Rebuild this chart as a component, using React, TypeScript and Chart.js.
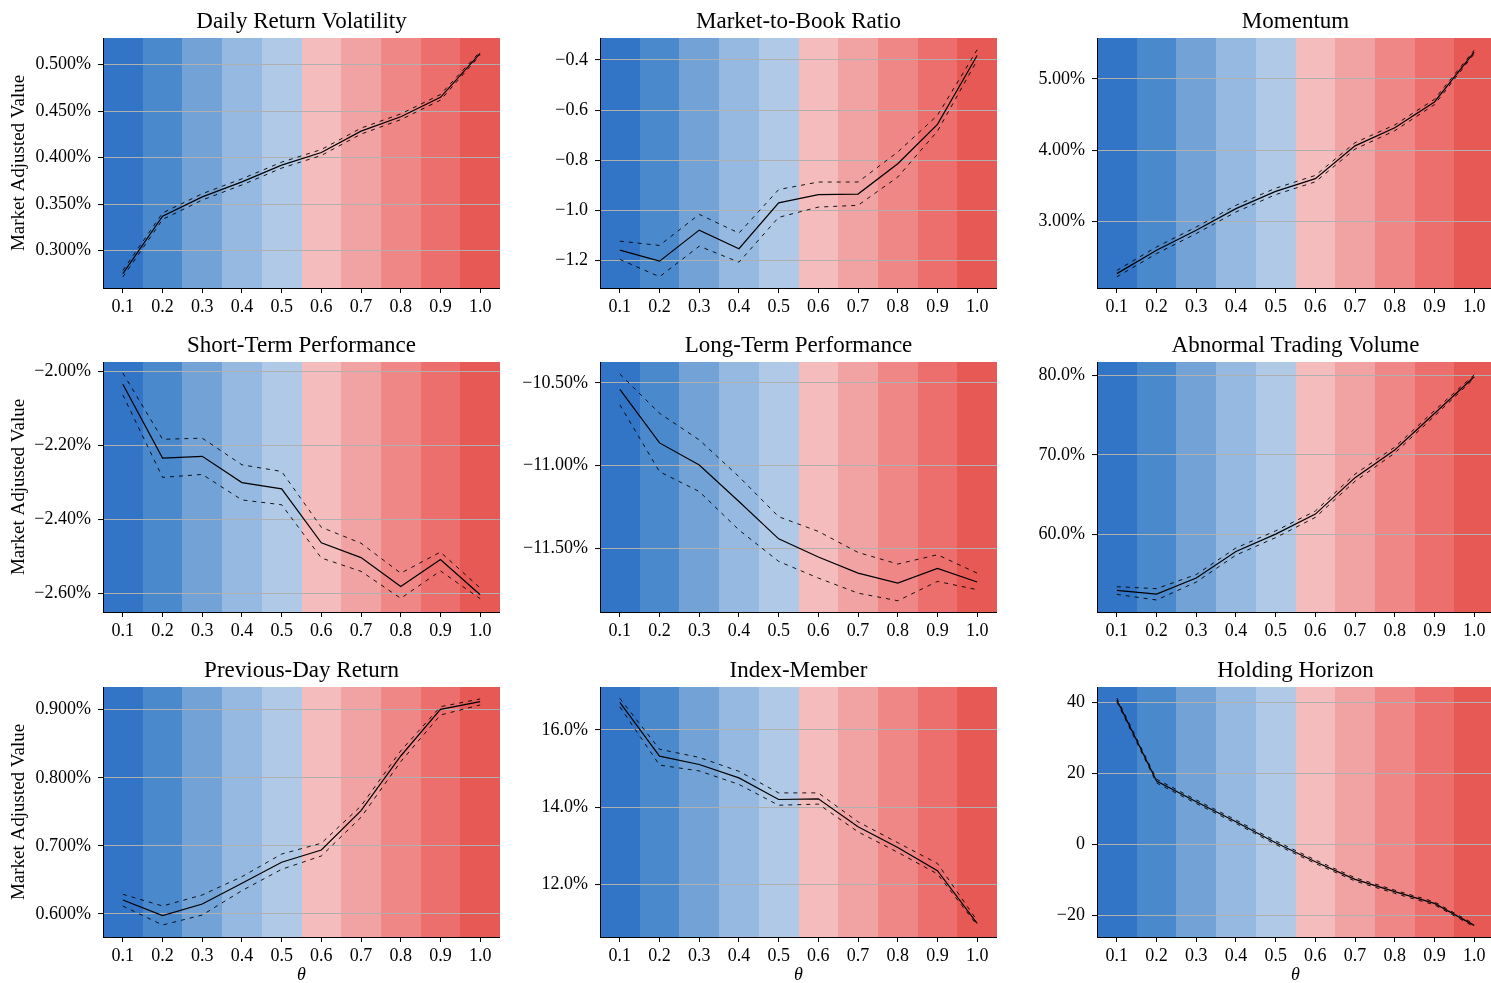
import React, { useEffect, useRef } from "react";
import { Chart, registerables } from "chart.js";

Chart.register(...registerables);

// ---------- data ----------
const THETA = ["0.1", "0.2", "0.3", "0.4", "0.5", "0.6", "0.7", "0.8", "0.9", "1.0"];

const BAND_COLORS = [
  "#3274c5", "#4b89cd", "#72a2d6", "#95b9e0", "#b0c9e7",
  "#f4bcbc", "#f1a2a2", "#ee8786", "#ec6f6d", "#e65955",
];

const TITLES = [
  "Daily Return Volatility", "Market-to-Book Ratio", "Momentum",
  "Short-Term Performance", "Long-Term Performance", "Abnormal Trading Volume",
  "Previous-Day Return", "Index-Member", "Holding Horizon",
];

// Daily Return Volatility (%)
const volMean = [0.2752, 0.337, 0.3578, 0.3739, 0.3919, 0.4055, 0.4285, 0.4439, 0.4648, 0.5121];
const volUpper = [0.2787, 0.3405, 0.3612, 0.3772, 0.3951, 0.4087, 0.4317, 0.447, 0.4678, 0.514];
const volLower = [0.2717, 0.3335, 0.3544, 0.3706, 0.3887, 0.4023, 0.4253, 0.4408, 0.4618, 0.5102];

// Market-to-Book Ratio
const mtbMean = [-1.159, -1.203, -1.079, -1.153, -0.97, -0.937, -0.935, -0.814, -0.657, -0.382];
const mtbUpper = [-1.123, -1.14, -1.016, -1.091, -0.917, -0.887, -0.887, -0.767, -0.621, -0.359];
const mtbLower = [-1.196, -1.265, -1.143, -1.207, -1.028, -0.987, -0.98, -0.867, -0.684, -0.401];

// Momentum (%)
const momMean = [2.265, 2.593, 2.874, 3.178, 3.42, 3.6, 4.06, 4.314, 4.677, 5.379];
const momUpper = [2.31, 2.64, 2.92, 3.225, 3.465, 3.645, 4.105, 4.355, 4.715, 5.405];
const momLower = [2.22, 2.546, 2.828, 3.131, 3.375, 3.555, 4.015, 4.273, 4.639, 5.353];

// Short-Term Performance (%)
const stpMean = [-2.035, -2.235, -2.23, -2.301, -2.318, -2.464, -2.504, -2.582, -2.509, -2.6045];
const stpUpper = [-2.005, -2.184, -2.181, -2.253, -2.271, -2.422, -2.465, -2.546, -2.489, -2.586];
const stpLower = [-2.064, -2.287, -2.279, -2.348, -2.361, -2.505, -2.541, -2.614, -2.54, -2.615];

// Long-Term Performance (%)
const ltpMean = [-10.538, -10.862, -10.996, -11.216, -11.442, -11.552, -11.649, -11.709, -11.62, -11.703];
const ltpUpper = [-10.446, -10.683, -10.844, -11.066, -11.308, -11.397, -11.524, -11.594, -11.538, -11.649];
const ltpLower = [-10.632, -11.036, -11.156, -11.388, -11.578, -11.679, -11.77, -11.816, -11.699, -11.749];

// Abnormal Trading Volume (%)
const atvMean = [52.96, 52.49, 54.51, 57.86, 60.04, 62.56, 67.15, 70.63, 75.24, 79.87];
const atvUpper = [53.42, 53.17, 54.95, 58.3, 60.45, 62.95, 67.6, 71.0, 75.6, 80.1];
const atvLower = [52.45, 51.74, 54.0, 57.4, 59.6, 62.15, 66.7, 70.25, 74.9, 79.65];

// Previous-Day Return (%)
const pdrMean = [0.6206, 0.5976, 0.6147, 0.645, 0.676, 0.694, 0.7518, 0.832, 0.9005, 0.9117];
const pdrUpper = [0.6289, 0.6117, 0.6279, 0.6548, 0.688, 0.7039, 0.7587, 0.8396, 0.9044, 0.9157];
const pdrLower = [0.6117, 0.5838, 0.5985, 0.6343, 0.6656, 0.6852, 0.742, 0.8237, 0.8922, 0.9069];

// Index-Member (%)
const idxMean = [16.717, 15.322, 15.106, 14.76, 14.199, 14.216, 13.49, 12.955, 12.354, 10.989];
const idxUpper = [16.82, 15.5, 15.29, 14.93, 14.37, 14.37, 13.62, 13.08, 12.54, 11.06];
const idxLower = [16.6, 15.09, 14.94, 14.59, 14.05, 14.08, 13.36, 12.83, 12.27, 10.94];

// Holding Horizon
const hhMean = [40.75, 17.93, 12.11, 6.48, 0.56, -4.79, -9.77, -13.24, -16.53, -22.72];
const hhUpper = [41.3, 18.45, 12.6, 6.95, 1.05, -4.3, -9.3, -12.8, -16.1, -22.35];
const hhLower = [40.2, 17.4, 11.6, 6.0, 0.07, -5.28, -10.24, -13.7, -16.96, -23.1];

// axis ranges and ticks
const Y_MIN = [0.2598, -1.31, 2.063, -2.651, -11.884, 50.23, 0.5662, 10.635, -26.0];
const Y_MAX = [0.5286, -0.312, 5.576, -1.975, -10.373, 81.72, 0.9333, 17.115, 44.41];
const Y_TICKS = [
  [0.3, 0.35, 0.4, 0.45, 0.5],
  [-1.2, -1.0, -0.8, -0.6, -0.4],
  [3, 4, 5],
  [-2.6, -2.4, -2.2, -2.0],
  [-11.5, -11.0, -10.5],
  [60, 70, 80],
  [0.6, 0.7, 0.8, 0.9],
  [12, 14, 16],
  [-20, 0, 20, 40],
];
const TICK_DECIMALS = [3, 1, 2, 2, 2, 1, 3, 1, 0];
const TICK_SUFFIX = ["%", "", "%", "%", "%", "%", "%", "%", ""];

const MEANS = [volMean, mtbMean, momMean, stpMean, ltpMean, atvMean, pdrMean, idxMean, hhMean];
const UPPERS = [volUpper, mtbUpper, momUpper, stpUpper, ltpUpper, atvUpper, pdrUpper, idxUpper, hhUpper];
const LOWERS = [volLower, mtbLower, momLower, stpLower, ltpLower, atvLower, pdrLower, idxLower, hhLower];

const Y_LABEL = "Market Adjusted Value";
const X_LABEL = "\u03b8";

// ---------- layout ----------
const FONT = "'Liberation Serif', 'Times New Roman', serif";
const PLOT_LEFT = [103, 600, 1097];
const PLOT_TOP = [38, 362, 687];
const PLOT_W = 397;
const PLOT_H = 250;
const YAXIS_W = 100;
const TITLE_H = 38;

const bandsPlugin = {
  id: "bands",
  beforeDraw(chart: any) {
    const { ctx, chartArea } = chart;
    const x = chart.scales.x;
    const n = THETA.length;
    ctx.save();
    ctx.beginPath();
    ctx.rect(chartArea.left, chartArea.top, chartArea.right - chartArea.left, chartArea.bottom - chartArea.top);
    ctx.clip();
    for (let i = 0; i < n; i++) {
      const c = x.getPixelForValue(i);
      const step = i < n - 1 ? x.getPixelForValue(i + 1) - c : c - x.getPixelForValue(i - 1);
      const l = i === 0 ? chartArea.left : Math.round(c - step / 2);
      const r = i === n - 1 ? chartArea.right : Math.round(c + step / 2);
      ctx.fillStyle = BAND_COLORS[i];
      ctx.fillRect(l, chartArea.top, r - l, chartArea.bottom - chartArea.top);
    }
    ctx.restore();
  },
};

function fmt(v: number, idx: number) {
  return (v.toFixed(TICK_DECIMALS[idx]) + TICK_SUFFIX[idx]).replace("-", "\u2212");
}

function Panel({ idx }: { idx: number }) {
  const ref = useRef<HTMLCanvasElement | null>(null);
  const row = Math.floor(idx / 3);
  const col = idx % 3;
  const xAxisH = row === 2 ? 50 : 45;
  const left = PLOT_LEFT[col] - YAXIS_W;
  const top = PLOT_TOP[row] - TITLE_H;
  const width = YAXIS_W + PLOT_W;
  const height = TITLE_H + PLOT_H + xAxisH;

  useEffect(() => {
    if (!ref.current) return;
    const dashed = {
      borderColor: "#000",
      borderWidth: 0.9,
      borderDash: [4, 5],
      pointRadius: 0,
      tension: 0,
      fill: false,
    };
    const chart = new Chart(ref.current, {
      type: "line",
      data: {
        labels: THETA,
        datasets: [
          { ...dashed, data: UPPERS[idx] },
          { ...dashed, data: LOWERS[idx] },
          {
            data: MEANS[idx],
            borderColor: "#000",
            borderWidth: 1.2,
            pointRadius: 0,
            tension: 0,
            fill: false,
          },
        ],
      },
      options: {
        responsive: false,
        animation: false,
        devicePixelRatio: 1,
        layout: { padding: 0 },
        plugins: {
          legend: { display: false },
          tooltip: { enabled: false },
          title: {
            display: true,
            text: TITLES[idx],
            fullSize: false,
            color: "#000",
            font: { family: FONT, size: 23, weight: "normal", lineHeight: 1.2 },
            padding: { top: 8, bottom: 2.4 },
          },
        },
        scales: {
          x: {
            type: "category",
            offset: true,
            grid: {
              display: true,
              drawOnChartArea: false,
              drawTicks: true,
              tickLength: 5,
              tickColor: "#000",
              tickWidth: 1,
            },
            border: { display: true, color: "#000", width: 1 },
            ticks: {
              color: "#000",
              font: { family: FONT, size: 18 },
              padding: 3,
              maxRotation: 0,
              autoSkip: false,
            },
            title: {
              display: row === 2,
              text: X_LABEL,
              color: "#000",
              font: { family: FONT, size: 18, style: "italic" },
              padding: { top: 0, bottom: 1 },
            },
            afterFit: (s: any) => {
              s.height = xAxisH;
            },
          },
          y: {
            type: "linear",
            min: Y_MIN[idx],
            max: Y_MAX[idx],
            afterBuildTicks: (s: any) => {
              s.ticks = Y_TICKS[idx].map((v) => ({ value: v }));
            },
            grid: {
              display: true,
              drawOnChartArea: true,
              color: "#b0b0b0",
              lineWidth: 1.1,
              drawTicks: true,
              tickLength: 5,
              tickColor: "#000",
              tickWidth: 1,
            },
            border: { display: true, color: "#000", width: 1 },
            ticks: {
              color: "#000",
              font: { family: FONT, size: 18 },
              padding: 7,
              callback: (v: any) => fmt(Number(v), idx),
            },
            title: {
              display: col === 0,
              text: Y_LABEL,
              color: "#000",
              font: { family: FONT, size: 19 },
              padding: { top: 5, bottom: 0 },
            },
            afterFit: (s: any) => {
              s.width = YAXIS_W;
            },
          },
        },
      },
      plugins: [bandsPlugin],
    } as any);
    return () => chart.destroy();
  }, [idx]);

  return (
    <canvas
      ref={ref}
      width={width}
      height={height}
      style={{ position: "absolute", left, top, width, height }}
    />
  );
}

export default function App() {
  return (
    <div
      style={{
        position: "absolute",
        left: 0,
        top: 0,
        width: 1491,
        height: 983,
        overflow: "hidden",
        background: "#fff",
      }}
    >
      {TITLES.map((_, i) => (
        <Panel key={i} idx={i} />
      ))}
    </div>
  );
}
